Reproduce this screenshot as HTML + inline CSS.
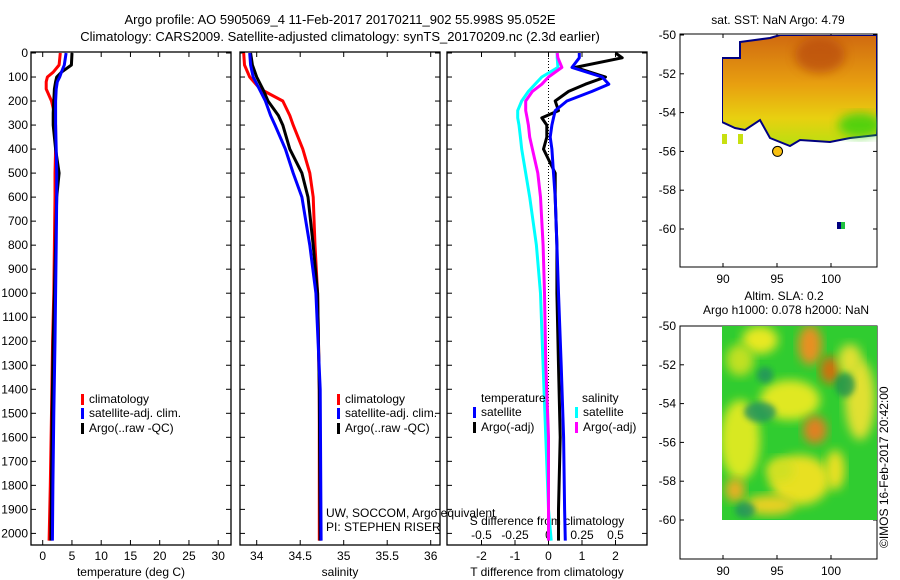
<!DOCTYPE html>
<html><head><meta charset="utf-8"><style>
body{margin:0;background:#fff;}
svg{display:block;font-family:"Liberation Sans",sans-serif;}
text{font-size:12px;fill:#000;}
</style></head><body>
<svg id="c" width="900" height="580" xmlns="http://www.w3.org/2000/svg">
<defs>
<filter id="bl" x="-20%" y="-20%" width="140%" height="140%"><feGaussianBlur stdDeviation="5"/></filter>
<filter id="bl2" x="-20%" y="-20%" width="140%" height="140%"><feGaussianBlur stdDeviation="3"/></filter>
<clipPath id="cp1"><rect x="722" y="35" width="155" height="112"/></clipPath>
<clipPath id="cp2"><rect x="722" y="326" width="155" height="194"/></clipPath>
<linearGradient id="sst" x1="0" y1="0" x2="0" y2="1">
<stop offset="0" stop-color="#d06a10"/><stop offset="0.45" stop-color="#e8a010"/><stop offset="0.75" stop-color="#e8d010"/><stop offset="1" stop-color="#b8e010"/></linearGradient>
</defs>
<text x="340" y="24" text-anchor="middle" style="font-size:13px">Argo profile: AO 5905069_4 11-Feb-2017 20170211_902 55.998S 95.052E</text>
<text x="340" y="41" text-anchor="middle" style="font-size:13px">Climatology: CARS2009. Satellite-adjusted climatology: synTS_20170209.nc (2.3d earlier)</text>
<g id="g"></g>
</svg>
<script>
// depth grids and profile values
const depthT=[0,50,80,100,120,150,200,250,300,400,500,600,800,1000,1200,1500,1800,2030];
const tempClim=[3.0,2.8,1.8,0.8,0.6,0.6,1.5,2.0,2.2,2.2,2.1,2.1,2.0,1.9,1.7,1.5,1.3,1.1];
const tempSat=[4.0,3.7,3.2,2.9,2.5,2.3,2.2,2.2,2.2,2.3,2.4,2.4,2.3,2.2,2.1,1.9,1.75,1.65];
const tempArgo=[5.0,4.9,3.2,2.4,2.2,2.0,1.9,1.8,1.8,2.2,2.8,2.4,2.2,2.0,1.8,1.6,1.5,1.4];
const depthS=[0,50,100,150,200,260,300,400,500,600,800,1000,1400,2030];
const salClim=[33.85,33.86,33.92,34.04,34.3,34.38,34.42,34.53,34.61,34.65,34.67,34.70,34.72,34.72];
const salSat=[33.92,33.93,33.96,34.03,34.1,34.16,34.21,34.33,34.42,34.52,34.61,34.68,34.73,34.74];
const salArgo=[33.93,33.95,34.0,34.07,34.13,34.25,34.3,34.38,34.52,34.59,34.65,34.7,34.72,34.73];
const depthD=[0,20,60,100,130,160,200,240,270,300,350,400,500,600,800,1000,1300,1600,1900,2030];
const tdiffSat=[0.92,0.92,0.7,1.6,1.8,1.3,0.55,0.2,0.15,0.1,0.05,0.1,0.15,0.2,0.25,0.3,0.38,0.45,0.48,0.5];
const tdiffArgo=[2.0,2.2,0.8,1.7,1.1,0.6,0.2,0.3,-0.2,-0.05,-0.05,-0.15,0.2,0.2,0.25,0.25,0.3,0.35,0.3,0.3];
const sdiffSat=[0.065,0.065,0.07,-0.05,-0.1,-0.15,-0.2,-0.23,-0.23,-0.22,-0.21,-0.2,-0.17,-0.14,-0.09,-0.06,-0.04,-0.02,0.0,0.02];
const sdiffArgo=[0.065,0.07,0.1,0.0,-0.05,-0.12,-0.17,-0.17,-0.16,-0.15,-0.14,-0.12,-0.08,-0.06,-0.04,-0.03,-0.02,0.0,0.0,0.0];
const depthTicks=[0,100,200,300,400,500,600,700,800,900,1000,1100,1200,1300,1400,1500,1600,1700,1800,1900,2000];
const tTicks=[0,5,10,15,20,25,30];
const sTicks=[34,34.5,35,35.5,36];
const sTickLabels=["34","34.5","35","35.5","36"];
const dTTicks=[-2,-1,0,1,2];
const dSTicks=[-0.5,-0.25,0,0.25,0.5];
const dSTickLabels=["-0.5","-0.25","0","0.25","0.5"];
const lonTicks=[90,95,100];
const latTicks=[-50,-52,-54,-56,-58,-60];
const argoLon=[95.05], argoLat=[-56.0];

const NS="http://www.w3.org/2000/svg";
const G=document.getElementById('g');
function el(t,a,p){const e=document.createElementNS(NS,t);for(const k in a)e.setAttribute(k,a[k]);(p||G).appendChild(e);return e;}
const TOP=52,BOT=545;
const yD=d=>53+d*0.2402;
const xT=v=>42.7+v*5.85;
const xS=v=>256.7+(v-34)*87;
const xDT=v=>548.5+v*33.5;
const xDS=v=>548.5+v*134;

function panel(x0,x1,name){
  const r=el('rect',{x:x0,y:TOP,width:x1-x0,height:BOT-TOP,fill:'none',stroke:'#000','stroke-width':1.3});
  
  
  depthTicks.forEach(d=>{el('line',{x1:x0,x2:x0+5,y1:yD(d),y2:yD(d),stroke:'#000'});el('line',{x1:x1,x2:x1-5,y1:yD(d),y2:yD(d),stroke:'#000'});});
}
panel(31,231,'temperature-panel');panel(240,440,'salinity-panel');panel(447,647,'difference-panel');
depthTicks.forEach(d=>{const t=el('text',{x:28,y:yD(d)+4,'text-anchor':'end'});t.textContent=d;

});
function xticks(vals,labels,fx,y,topY,botY,nm){vals.forEach((v,i)=>{const x=fx(v);
 if(topY!==null)el('line',{x1:x,x2:x,y1:topY,y2:topY+5,stroke:'#000'});
 if(botY!==null)el('line',{x1:x,x2:x,y1:botY,y2:botY-5,stroke:'#000'});
 const t=el('text',{x:x,y:y,'text-anchor':'middle'});t.textContent=labels[i];
 
 });}
xticks(tTicks,tTicks.map(String),xT,560,TOP,BOT,'temperature-tick-label');
xticks(sTicks,sTickLabels,xS,560,TOP,BOT,'salinity-tick-label');
xticks(dTTicks,dTTicks.map(String),xDT,560,TOP,BOT,'t-diff-tick-label');
xticks(dSTicks,dSTickLabels,xDS,539,null,null,'s-diff-tick-label');
function lab(x,y,s,nm,anchor){const t=el('text',{x:x,y:y,'text-anchor':anchor||'middle'});t.textContent=s;

return t;}
lab(131,576,'temperature (deg C)','temperature-axis-title');
lab(340,576,'salinity','salinity-axis-title');
lab(547,576,'T difference from climatology','t-diff-axis-title');
lab(547,525,'S difference from climatology','s-diff-axis-title');
lab(326,517,'UW, SOCCOM, Argo equivalent','float-owner-label','start');
lab(326,531,'PI: STEPHEN RISER','pi-label','start');
// zero line
el('line',{x1:xDT(0),x2:xDT(0),y1:TOP,y2:yD(1900),stroke:'#000','stroke-dasharray':'1,2'});
function line(ds,vs,fx,col,w,nm){const p=ds.map((d,i)=>(i?'L':'M')+fx(vs[i]).toFixed(1)+','+yD(d).toFixed(1)).join('');
 const e=el('path',{d:p,fill:'none',stroke:col,'stroke-width':w,'stroke-linejoin':'round'});
 
 }
line(depthT,tempClim,xT,'#f00',3,'temperature-climatology-line');
line(depthT,tempArgo,xT,'#000',3,'temperature-argo-line');
line(depthT,tempSat,xT,'#00f',3,'temperature-satellite-line');
line(depthS,salClim,xS,'#f00',3,'salinity-climatology-line');
line(depthS,salArgo,xS,'#000',3,'salinity-argo-line');
line(depthS,salSat,xS,'#00f',3,'salinity-satellite-line');
line(depthD,sdiffSat,xDS,'#0ff',3,'s-diff-satellite-line');
line(depthD,sdiffArgo,xDS,'#f0f',3,'s-diff-argo-line');
line(depthD,tdiffArgo,xDT,'#000',3,'t-diff-argo-line');
line(depthD,tdiffSat,xDT,'#00f',3,'t-diff-satellite-line');
// legends
function leg(x,y,col,s,nm){el('rect',{x:x,y:y-9,width:3,height:11,fill:col});const t=el('text',{x:x+8,y:y});t.textContent=s;
 
 }
[[31+50,'legend-temp'],[337,'legend-sal']].forEach(([x,n])=>{
 leg(x,403,'#f00','climatology',n+'-climatology');leg(x,417,'#00f','satellite-adj. clim.',n+'-satellite');leg(x,432,'#000','Argo(..raw -QC)',n+'-argo');});
lab(481,402,'temperature','legend-temperature-heading','start');lab(582,402,'salinity','legend-salinity-heading','start');
leg(473,416,'#00f','satellite','legend-t-satellite');leg(473,431,'#000','Argo(-adj)','legend-t-argo');
leg(575,416,'#0ff','satellite','legend-s-satellite');leg(575,431,'#f0f','Argo(-adj)','legend-s-argo');
// maps
function map(y0,nm,lat0y){const x0=680,x1=877,y1=y0+233;
 const r=el('rect',{x:x0,y:y0,width:x1-x0,height:y1-y0,fill:'none',stroke:'#000'});
 
 
 const xL=v=>723+(v-90)*10.8, yL=v=>lat0y+(-50-v)*19.4;
 lonTicks.forEach(v=>{el('line',{x1:xL(v),x2:xL(v),y1:y0,y2:y0+4,stroke:'#000'});el('line',{x1:xL(v),x2:xL(v),y1:y1,y2:y1-4,stroke:'#000'});
  const t=el('text',{x:xL(v),y:y1+16,'text-anchor':'middle'});t.textContent=v;
  
  });
 latTicks.forEach(v=>{el('line',{x1:x0,x2:x0+4,y1:yL(v),y2:yL(v),stroke:'#000'});el('line',{x1:x1,x2:x1-4,y1:yL(v),y2:yL(v),stroke:'#000'});
  const t=el('text',{x:x0-4,y:yL(v)+4,'text-anchor':'end'});t.textContent=v;
  
  });
 return [xL,yL];}
const [xL1,yL1]=map(34,'sst-map',35);
const [xL2,yL2]=map(326,'sla-map',326);
// SST image approximation
const sg=el('g',{'clip-path':'url(#cp1)'});


el('path',{d:'M722,58 L740,58 L740,42 L770,38 L780,35 L877,35 L877,135 L850,138 L830,142 L800,140 L790,146 L770,138 L760,120 L745,130 L735,128 L722,122 Z',fill:'url(#sst)',stroke:'#000080','stroke-width':2},sg);
el('ellipse',{cx:820,cy:55,rx:25,ry:18,fill:'#b84a08',filter:'url(#bl)',opacity:0.7},sg);
el('ellipse',{cx:860,cy:125,rx:22,ry:12,fill:'#30d010',filter:'url(#bl)',opacity:0.8},sg);
el('rect',{x:722,y:134,width:5,height:10,fill:'#c8e010'},sg);el('rect',{x:738,y:134,width:5,height:10,fill:'#c8e010'},sg);
el('rect',{x:837,y:222,width:4,height:7,fill:'#000080'});el('rect',{x:841,y:222,width:4,height:7,fill:'#20c040'});
const dot=el('circle',{cx:xL1(argoLon[0]),cy:yL1(argoLat[0]),r:5,fill:'#f8c010',stroke:'#000'});


lab(778,24,'sat. SST: NaN Argo: 4.79','sst-map-title');
lab(784,300,'Altim. SLA: 0.2','sla-map-title');
lab(786,314,'Argo h1000: 0.078 h2000: NaN','argo-height-label');
// SLA approximation
const ag=el('g',{'clip-path':'url(#cp2)'});


el('rect',{x:722,y:326,width:155,height:194,fill:'#30cc30'},ag);
[[760,340,18,14,'#e8e820'],[810,345,12,20,'#e89020'],[830,370,10,14,'#d07010'],[790,400,30,20,'#e0e820'],[815,430,12,14,'#e08020'],[740,440,20,40,'#d8e820'],[800,480,30,25,'#e8e020'],[770,505,25,10,'#e8d020'],[860,400,15,40,'#e0e030'],[850,360,12,16,'#e0e030'],[740,360,14,16,'#c0e020'],[780,470,14,12,'#d0e020'],[835,470,10,20,'#e8e020'],[735,490,10,12,'#e8b020']].forEach(a=>
 el('ellipse',{cx:a[0],cy:a[1],rx:a[2],ry:a[3],fill:a[4],filter:'url(#bl)'},ag));
[[760,412,16,10,'#209060'],[745,510,10,8,'#209060'],[845,385,10,12,'#209050'],[765,375,8,8,'#209060']].forEach(a=>
 el('ellipse',{cx:a[0],cy:a[1],rx:a[2],ry:a[3],fill:a[4],filter:'url(#bl2)',opacity:0.8},ag));
const ts=el('text',{x:0,y:0,transform:'translate(888,548) rotate(-90)'});ts.textContent='©IMOS 16-Feb-2017 20:42:00';


</script>
</body></html>
